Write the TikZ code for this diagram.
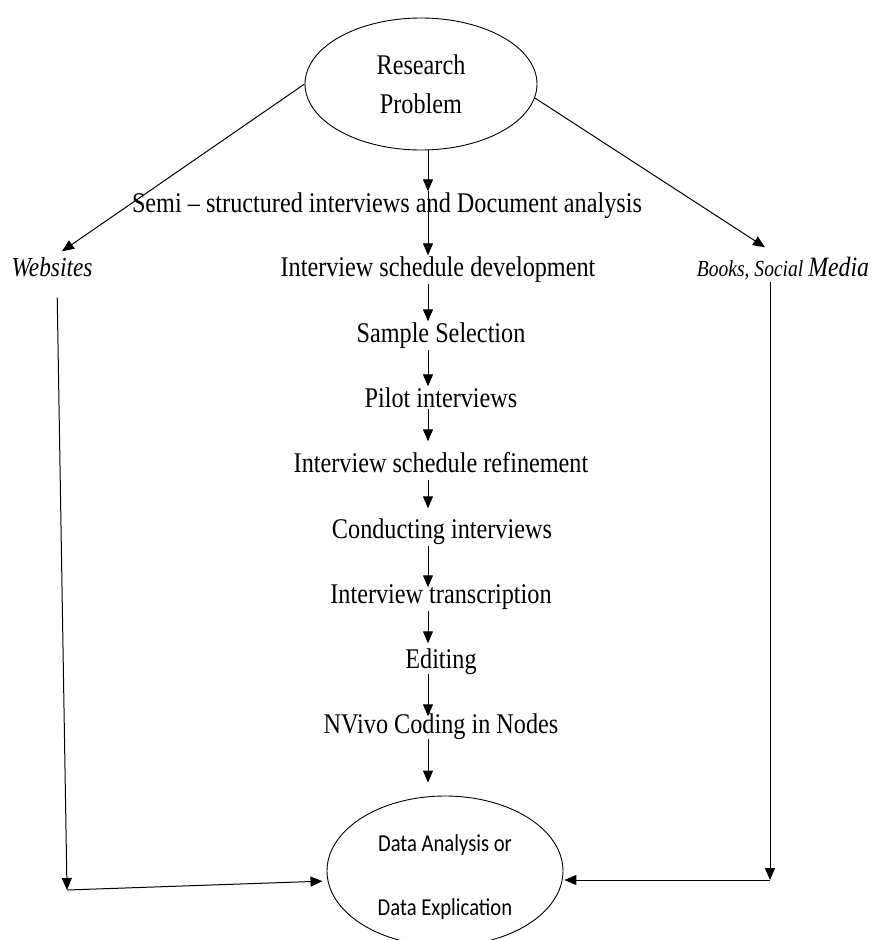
\documentclass[tikz,border=0pt]{standalone}
\usepackage{fontspec}
\setmainfont{Liberation Serif}[FakeStretch=0.85]
\newfontfamily\calib{Carlito}[FakeStretch=0.85]
\usetikzlibrary{arrows.meta,shapes.geometric}
\begin{document}
\begin{tikzpicture}[x=1pt,y=-1pt,
  arr/.style={-{Triangle[length=12pt,width=10pt]}, line width=1pt},
  mainfont/.style={font=\fontsize{28.5}{34}\selectfont},
  stage/.style={mainfont, inner sep=0pt, text height=19pt, text depth=6pt, minimum height=28pt},
  oval/.style={ellipse, draw, line width=0.9pt, inner sep=0pt, align=center}]
\useasboundingbox (0,0) rectangle (872,940);

\coordinate (axis) at (428,0);

\node[oval, mainfont, minimum width=232, minimum height=132] (top) at (421,84) {Research\\[5pt]Problem};

\node[stage] (semi) at (387,205.5) {Semi -- structured interviews and Document analysis};
\node[stage] (isd) at (438,269.5) {Interview schedule development};
\node[stage] (ss) at (441,335.5) {Sample Selection};
\node[stage] (pi) at (441,400.5) {Pilot interviews};
\node[stage] (isr) at (441,465.5) {Interview schedule refinement};
\node[stage] (ci) at (442,531.5) {Conducting interviews};
\node[stage] (it) at (441,596.5) {Interview transcription};
\node[stage] (ed) at (441,661.5) {Editing};
\node[stage] (nv) at (441,726.5) {NVivo Coding in Nodes};

\node[stage, font=\itshape\fontsize{27.5}{33}\selectfont] (web) at (52,269.5) {Websites};
\node[stage, font=\itshape\fontsize{23}{28}\selectfont] (books) at (783,269.5) {Books, Social {\fontsize{28}{33}\selectfont Media}};

\node[oval, font=\calib\fontsize{24.3}{29}\selectfont, minimum width=236, minimum height=150] (bot) at (445,871) {\rule{0pt}{28pt}Data Analysis or\\[35pt]Data Explication};

% central chain
\draw[arr] (top.south -| axis) -- (semi.north -| axis);
\draw[arr] (semi.north -| axis) -- (isd.north -| axis);
\draw[arr] (isd.south -| axis) -- (ss.north -| axis);
\draw[arr] (ss.south -| axis) -- (pi.north -| axis);
\draw[arr, shorten <=-6pt, shorten >=10pt] (pi.south -| axis) -- (isr.north -| axis);
\draw[arr, shorten >=9pt] (isr.south -| axis) -- (ci.north -| axis);
\draw[arr, shorten >=-5pt] (ci.south -| axis) -- (it.north -| axis);
\draw[arr, shorten >=4pt] (it.south -| axis) -- (ed.north -| axis);
\draw[arr, shorten <=-2pt, shorten >=-4pt] (ed.south -| axis) -- (nv.north -| axis);
\draw[arr, shorten <=-2pt, shorten >=13pt] (nv.south -| axis) -- (bot.north -| axis);

% side branches
\draw[arr] (top.west) -- ([xshift=10pt,yshift=4pt]web.north);
\draw[arr] (top.-7) -- ([xshift=-18pt,yshift=8pt]books.north);

\coordinate (lc) at (67,890);
\draw[arr, shorten <=14pt] ([xshift=5pt]web.south) -- (lc);
\draw[arr, shorten >=4pt] (lc) -- ([yshift=-10pt]bot.west);

\coordinate (rc) at (770,880);
\draw[arr, shorten <=-2pt] (books.south -| rc) -- (rc);
\draw[arr, shorten >=1pt] (rc) -- (bot.east |- rc);
\end{tikzpicture}
\end{document}
